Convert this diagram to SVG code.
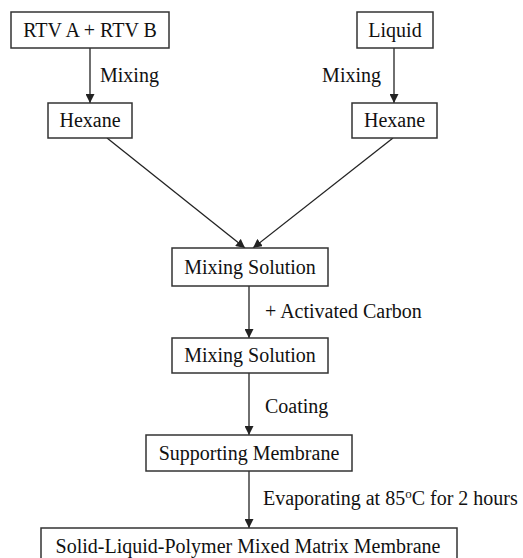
<svg xmlns="http://www.w3.org/2000/svg" width="523" height="558" viewBox="0 0 523 558">
<style>
.box{fill:#fff;stroke:#333;stroke-width:1.5}
.t{font-family:"Liberation Serif","Times New Roman",serif;font-size:20px;fill:#111}
.c{text-anchor:middle}
.ln{stroke:#222;stroke-width:1.3;fill:none;marker-end:url(#ah)}
</style>
<defs>
<marker id="ah" markerUnits="userSpaceOnUse" markerWidth="9" markerHeight="9" viewBox="0 0 10 10" refX="10" refY="5" orient="auto">
<path d="M0,0 L10,5 L0,10 z" fill="#222"/>
</marker>
</defs>
<rect width="523" height="558" fill="#fff"/>
<g id="connectors">
<line class="ln" x1="90" y1="48" x2="90" y2="103"/>
<line class="ln" x1="394" y1="48" x2="394" y2="103"/>
<line class="ln" x1="107" y1="138" x2="245" y2="248"/>
<line class="ln" x1="393" y1="138" x2="253" y2="248"/>
<line class="ln" x1="249" y1="286" x2="249" y2="338"/>
<line class="ln" x1="249" y1="373" x2="249" y2="435"/>
<line class="ln" x1="249" y1="471" x2="249" y2="528"/>
<text class="t" x="100" y="82">Mixing</text>
<text class="t" x="381" y="82" text-anchor="end">Mixing</text>
<text class="t" x="265" y="318">+ Activated Carbon</text>
<text class="t" x="265" y="413">Coating</text>
<text class="t" x="263" y="505">Evaporating at 85<tspan font-size="13" dy="-7">o</tspan><tspan dy="7">C for 2 hours</tspan></text>
</g>
<g id="rtv"><rect class="box" x="11" y="12" width="158" height="36"/><text class="t c" x="90" y="37">RTV A + RTV B</text></g>
<g id="liquid"><rect class="box" x="357" y="12" width="76" height="36"/><text class="t c" x="395" y="37">Liquid</text></g>
<g id="hexane1"><rect class="box" x="48" y="103" width="84" height="35"/><text class="t c" x="90" y="127">Hexane</text></g>
<g id="hexane2"><rect class="box" x="352" y="103" width="85" height="35"/><text class="t c" x="394.5" y="127">Hexane</text></g>
<g id="mix1"><rect class="box" x="172" y="248" width="156" height="38"/><text class="t c" x="250" y="274">Mixing Solution</text></g>
<g id="mix2"><rect class="box" x="172" y="338" width="156" height="35"/><text class="t c" x="250" y="362">Mixing Solution</text></g>
<g id="support"><rect class="box" x="146" y="435" width="206" height="36"/><text class="t c" x="249" y="460">Supporting Membrane</text></g>
<g id="final"><rect class="box" x="41" y="528" width="416" height="40"/><text class="t c" x="248" y="553">Solid-Liquid-Polymer Mixed Matrix Membrane</text></g>
</svg>
